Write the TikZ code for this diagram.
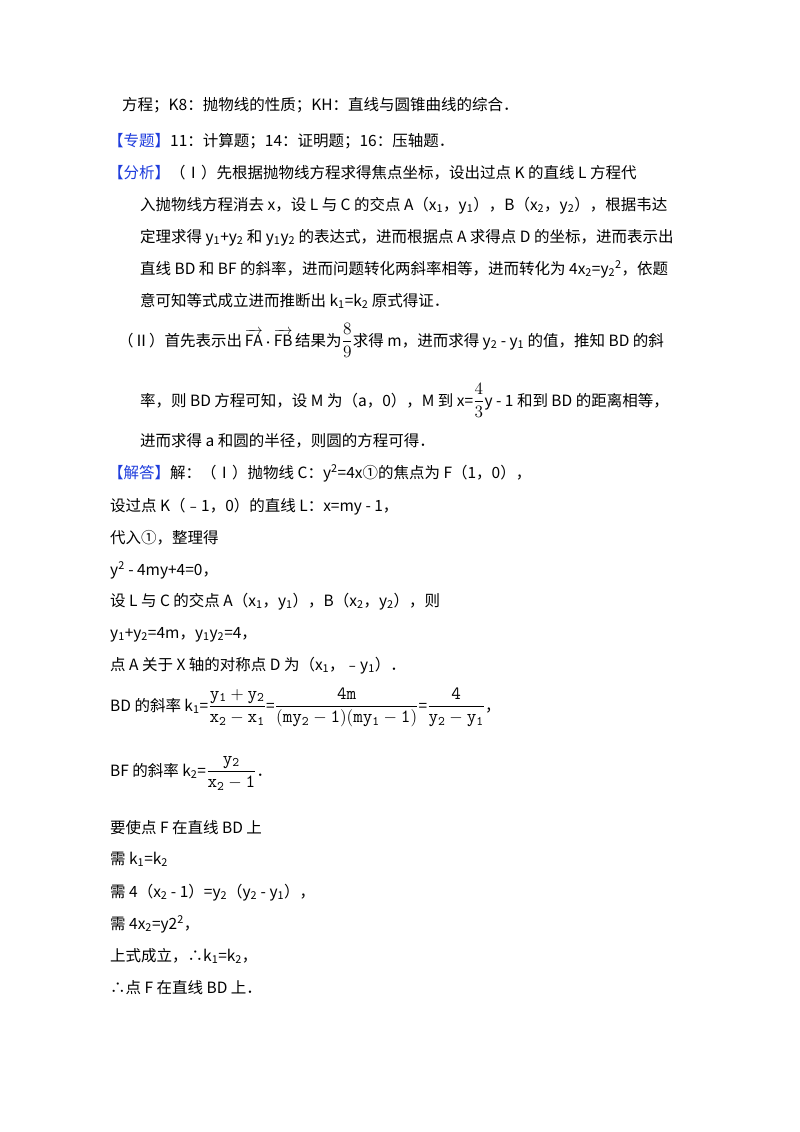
\documentclass[tikz,border=0pt]{standalone}
\usepackage{fontspec}
\setmainfont{Noto Sans CJK SC}
\usepackage{amsmath}
\newcommand{\sbs}[1]{\textsubscript{#1}}
\newcommand{\sps}[1]{\textsuperscript{#1}}
\newcommand{\bfr}[2]{\scalebox{1.2}{$\dfrac{#1}{#2}$}}
\definecolor{hdblue}{RGB}{30,60,220}
\begin{document}
\begin{tikzpicture}[x=1pt,y=-1pt,
 ln/.style={anchor=base west,inner sep=0pt,font=\fontsize{15.5}{18}\selectfont},
 hd/.style={text=hdblue}]
\useasboundingbox (0,0) rectangle (800,1132);
\node[ln] (l1) at (122,110) {方程；K8：抛物线的性质；KH：直线与圆锥曲线的综合．};
\node[ln] (l2) at (108,146) {\textcolor{hdblue}{【专题】}11：计算题；14：证明题；16：压轴题．};
\node[ln] (l3) at (108,178) {\textcolor{hdblue}{【分析】}（Ⅰ）先根据抛物线方程求得焦点坐标，设出过点 K 的直线 L 方程代};
\node[ln] (l4) at (140,210) {入抛物线方程消去 x，设 L 与 C 的交点 A（x\sbs1，y\sbs1），B（x\sbs2，y\sbs2），根据韦达};
\node[ln] (l5) at (140,242) {定理求得 y\sbs1+y\sbs2 和 y\sbs1y\sbs2 的表达式，进而根据点 A 求得点 D 的坐标，进而表示出};
\node[ln] (l6) at (140,274) {直线 BD 和 BF 的斜率，进而问题转化两斜率相等，进而转化为 4x\sbs2=y\sbs2\sps2，依题};
\node[ln] (l7) at (140,306) {意可知等式成立进而推断出 k\sbs1=k\sbs2 原式得证．};
\node[ln] (l8) at (118,346) {（Ⅱ）首先表示出\,$\overrightarrow{\mathrm{FA}}\boldsymbol{\cdot}\overrightarrow{\mathrm{FB}}$\,结果为\bfr{8}{9}求得 m，进而求得 y\sbs2 - y\sbs1 的值，推知 BD 的斜};
\node[ln] (l9) at (140,406) {率，则 BD 方程可知，设 M 为（a，0），M 到 x=\bfr{4}{3}y - 1 和到 BD 的距离相等，};
\node[ln] (l10) at (140,446) {进而求得 a 和圆的半径，则圆的方程可得．};
\node[ln] (l11) at (108,478) {\textcolor{hdblue}{【解答】}解：（Ⅰ）抛物线 C：y\sps2=4x①的焦点为 F（1，0），};
\node[ln] (l12) at (110,511) {设过点 K（﹣1，0）的直线 L：x=my - 1，};
\node[ln] (l13) at (110,543) {代入①，整理得};
\node[ln] (l14) at (110,575) {y\sps2 - 4my+4=0，};
\node[ln] (l15) at (110,606) {设 L 与 C 的交点 A（x\sbs1，y\sbs1），B（x\sbs2，y\sbs2），则};
\node[ln] (l16) at (110,638) {y\sbs1+y\sbs2=4m，y\sbs1y\sbs2=4，};
\node[ln] (l17) at (110,670) {点 A 关于 X 轴的对称点 D 为（x\sbs1，﹣y\sbs1）．};
\node[ln] (l18) at (110,711) {BD 的斜率 k\sbs1=\bfr{\mathtt{y_1+y_2}}{\mathtt{x_2-x_1}}=\bfr{\mathtt{4m}}{\mathtt{(my_2-1)(my_1-1)}}=\bfr{\mathtt{4}}{\mathtt{y_2-y_1}}，};
\node[ln] (l19) at (110,776) {BF 的斜率 k\sbs2=\bfr{\mathtt{y_2}}{\mathtt{x_2-1}}．};
\node[ln] (l20) at (110,833) {要使点 F 在直线 BD 上};
\node[ln] (l21) at (110,864) {需 k\sbs1=k\sbs2};
\node[ln] (l22) at (110,897) {需 4（x\sbs2 - 1）=y\sbs2（y\sbs2 - y\sbs1），};
\node[ln] (l23) at (110,929) {需 4x\sbs2=y2\sps2，};
\node[ln] (l24) at (110,961) {上式成立，∴k\sbs1=k\sbs2，};
\node[ln] (l25) at (110,993) {∴点 F 在直线 BD 上．};
\end{tikzpicture}
\end{document}
